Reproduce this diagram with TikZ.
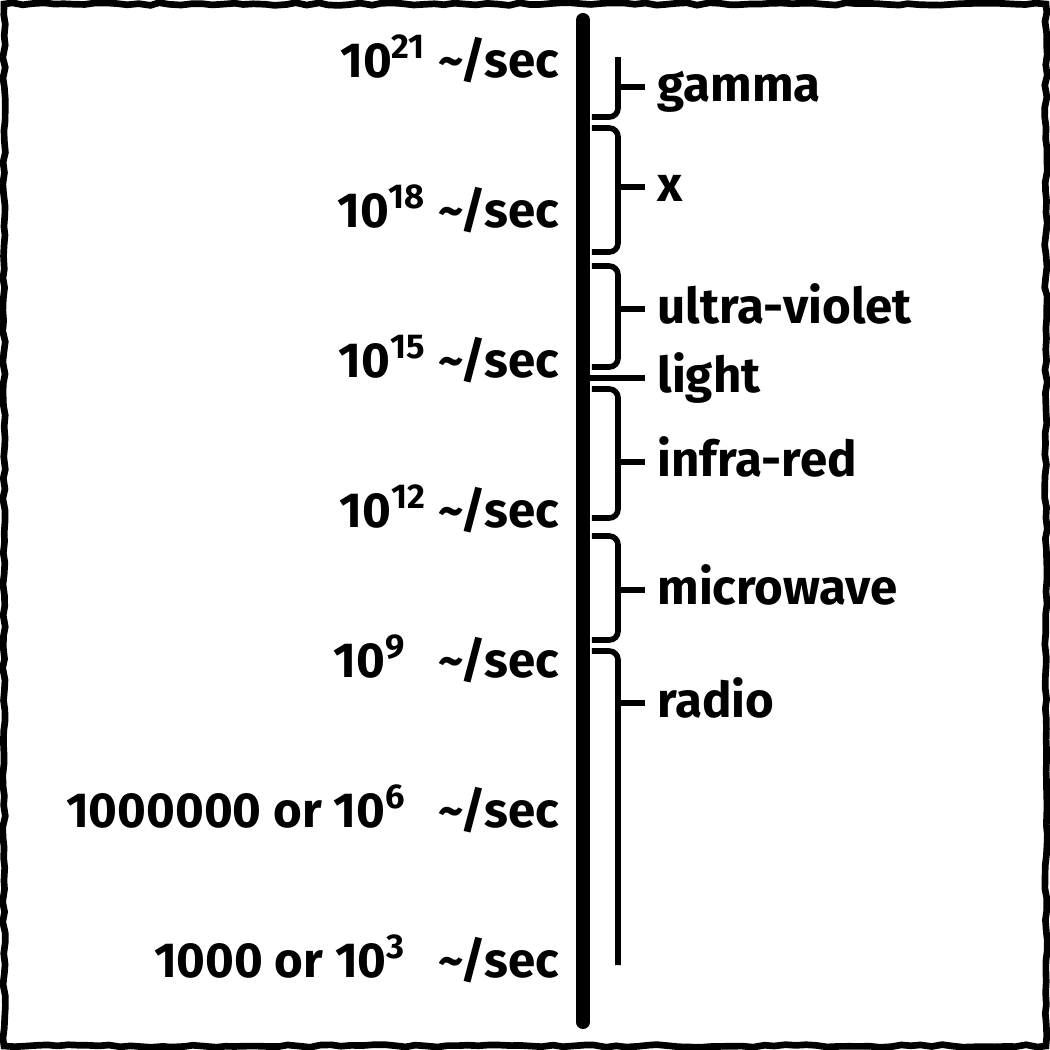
\documentclass[tikz,border=0pt]{standalone}
\usepackage{fontspec}
\setmainfont{Fira Sans}
\usetikzlibrary{decorations.pathmorphing}

\tikzset{
  x=0.01cm, y=-0.01cm,
  txt/.style={font=\bfseries\fontsize{14}{16}\selectfont},
  freq/.style={txt, anchor=base east, inner sep=0pt},
  bandlabel/.style={txt, anchor=west, text height=1.6ex, text depth=0pt},
  axisline/.style={line width=4pt, line cap=round},
  band/.style={line width=1.6pt, rounded corners=2.5pt},
  tickline/.style={line width=1.6pt},
  frame/.style={line width=1.9pt, decorate,
    decoration={random steps, segment length=3pt, amplitude=0.4pt}}
}

\begin{document}
\begin{tikzpicture}
  \useasboundingbox (0,0) rectangle (1050,1050);
  % Rahmen
  \draw[frame] (4,4) rectangle (1046,1046);

  % Frequenzachse
  \coordinate (top) at (583,20);
  \coordinate (bot) at (583,1022);
  \draw[axisline] (top) -- (bot);

  % Frequenzen (links)
  \foreach \y/\n/\t in {
      77/f21/{10\textsuperscript{21}},
      227/f18/{10\textsuperscript{18}},
      377/f15/{10\textsuperscript{15}},
      527/f12/{10\textsuperscript{12}},
      677/f9/{10\textsuperscript{9\hphantom{0}}},
      827/f6/{1000000 or 10\textsuperscript{6\hphantom{0}}},
      977/f3/{1000 or 10\textsuperscript{3\hphantom{0}}}}
    \node[freq] (\n) at (560,\y) {\t\ \textasciitilde/sec};

  % Bereiche (rechts)
  \draw[band] (618,57) -- (618,117) -- (592,117);
  \draw[band] (592,128) -- (618,128) -- (618,252) -- (592,252);
  \draw[band] (592,266) -- (618,266) -- (618,367) -- (592,367);
  \draw[band] (592,389) -- (618,389) -- (618,518) -- (592,518);
  \draw[band] (592,536) -- (618,536) -- (618,640) -- (592,640);
  \draw[band] (592,651) -- (618,651) -- (618,965);

  % Beschriftungen mit Strichen
  \foreach \y/\n/\t in {
      87/gamma/gamma,
      187/xray/x,
      309/uv/ultra-violet,
      462/ir/infra-red,
      590/micro/microwave,
      703/radio/radio} {
    \coordinate (\n-t) at (618,\y);
    \node[bandlabel] (\n) at (645,\y) {\t};
    \draw[tickline] (\n-t) -- (\n.west);
  }
  \coordinate (light-t) at (590,378);
  \node[bandlabel] (light) at (645,378) {light};
  \draw[tickline] (light-t) -- (light.west);
\end{tikzpicture}
\end{document}
